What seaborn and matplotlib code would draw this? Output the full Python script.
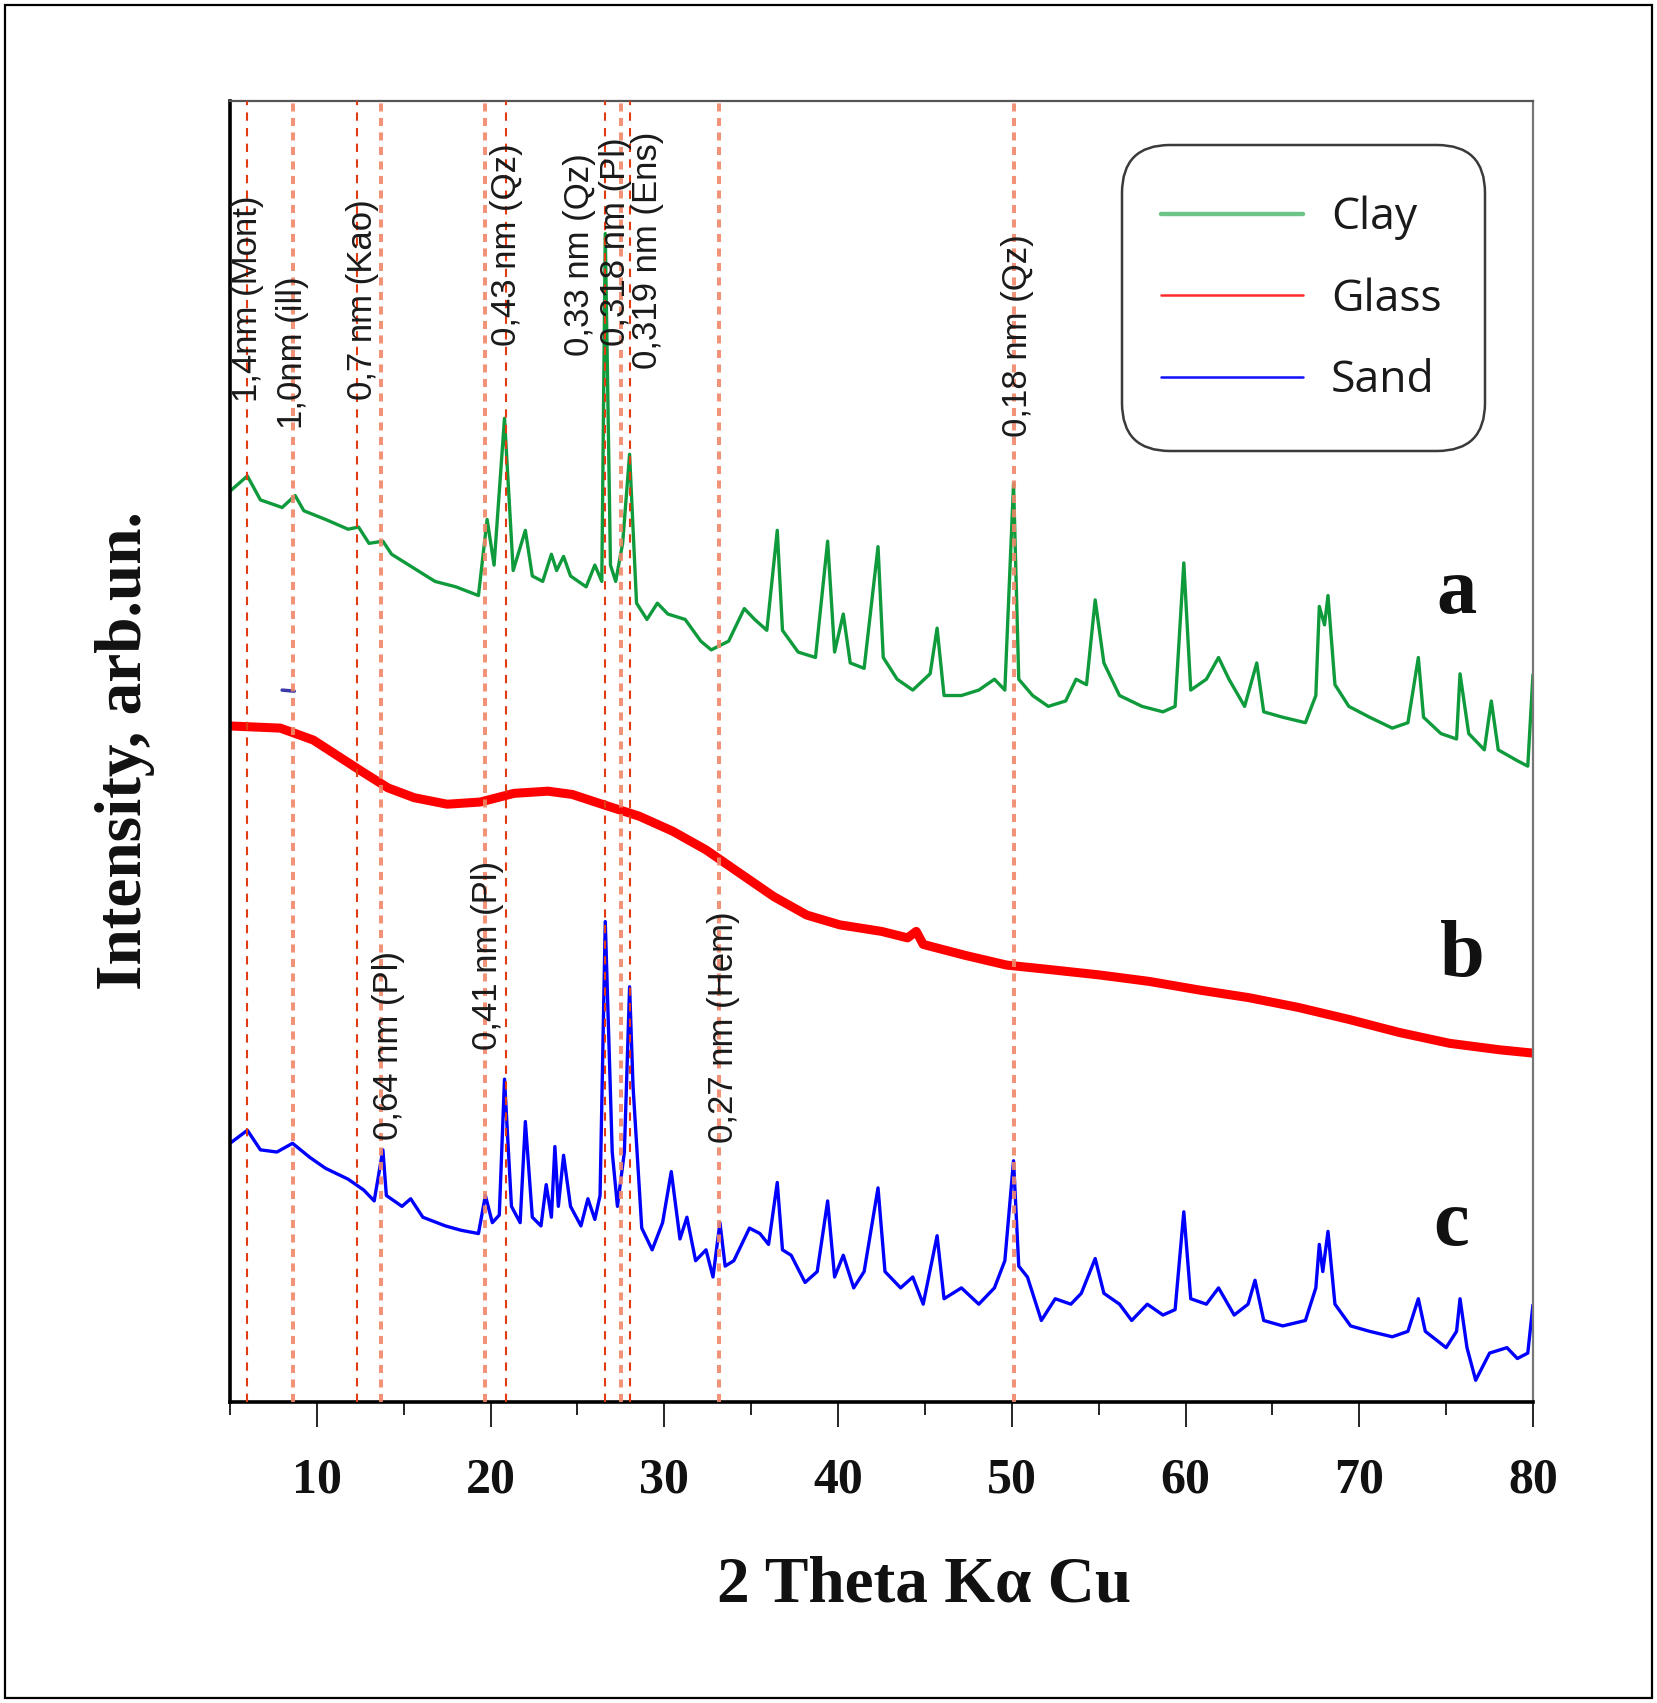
import numpy as np
import pandas as pd
import matplotlib
matplotlib.use("Agg")
import matplotlib.pyplot as plt
import seaborn as sns
from matplotlib.lines import Line2D
from matplotlib.patches import Rectangle, FancyBboxPatch
from matplotlib.transforms import IdentityTransform

# ---------------- data ----------------
clay_theta = [5.0, 6.0, 6.75, 8.0, 8.75, 9.25, 10.5, 11.8, 12.4, 13.0,
              13.8, 14.3, 15.5, 16.8, 18.0, 19.3, 19.8, 20.2, 20.8, 21.3,
              22.0, 22.4, 23.0, 23.5, 23.8, 24.2, 24.6, 25.5, 26.0, 26.4,
              26.6, 26.9, 27.2, 27.6, 28.0, 28.4, 29.0, 29.6, 30.2, 31.2,
              32.1, 32.7, 33.7, 34.6, 35.2, 35.9, 36.5, 36.8, 37.7, 38.7,
              39.4, 39.8, 40.3, 40.7, 41.5, 42.3, 42.6, 43.4, 44.3, 45.3,
              45.7, 46.1, 47.1, 48.1, 49.0, 49.6, 50.1, 50.4, 51.2, 52.1,
              53.1, 53.7, 54.3, 54.8, 55.3, 56.2, 57.5, 58.7, 59.4, 59.9,
              60.3, 61.2, 61.9, 62.5, 63.4, 64.1, 64.5, 65.6, 66.9, 67.5,
              67.7, 68.0, 68.2, 68.6, 69.4, 70.6, 71.9, 72.8, 73.4, 73.7,
              74.7, 75.6, 75.8, 76.3, 77.2, 77.6, 78.0, 79.1, 79.7, 80.0]
clay_int = [83.8, 85.2, 83.0, 82.3, 83.4, 82.0, 81.2, 80.3, 80.5, 79.0,
            79.2, 78.0, 76.8, 75.5, 75.0, 74.2, 81.2, 77.0, 90.5, 76.5,
            80.2, 76.0, 75.5, 78.0, 76.5, 77.8, 76.0, 75.0, 77.0, 75.5,
            107.5, 77.0, 75.5, 79.0, 87.2, 73.5, 72.0, 73.5, 72.5, 72.0,
            70.0, 69.2, 70.0, 73.0, 72.0, 71.0, 80.2, 71.0, 69.0, 68.5,
            79.2, 69.0, 72.5, 68.0, 67.5, 78.7, 68.5, 66.5, 65.5, 67.0,
            71.2, 65.0, 65.0, 65.5, 66.5, 65.5, 84.5, 66.5, 65.0, 64.0,
            64.5, 66.5, 66.0, 73.8, 68.0, 65.0, 64.0, 63.5, 64.0, 77.2,
            65.5, 66.5, 68.5, 66.5, 64.0, 68.0, 63.5, 63.0, 62.5, 65.0,
            73.2, 71.5, 74.2, 66.0, 64.0, 63.0, 62.0, 62.5, 68.5, 63.0,
            61.5, 61.0, 67.0, 61.5, 60.0, 64.5, 60.0, 59.0, 58.5, 67.0]

glass_theta = [5.0, 7.9, 9.8, 11.25, 12.7, 14.1, 15.6, 17.5, 19.4, 21.35,
               23.3, 24.7, 26.6, 28.55, 30.5, 32.4, 34.3, 36.3, 38.2, 40.1,
               42.5, 44.0, 44.5, 44.9, 47.3, 49.7, 52.1, 55.0, 57.9, 60.8,
               63.65, 66.5, 69.4, 72.3, 75.2, 78.1, 80.0]
glass_int = [62.2, 62.0, 60.9, 59.4, 57.9, 56.5, 55.6, 55.0, 55.2, 56.0,
             56.2, 55.9, 54.9, 53.9, 52.5, 50.8, 48.7, 46.5, 44.8, 43.9,
             43.3, 42.7, 43.3, 42.1, 41.1, 40.2, 39.8, 39.3, 38.7, 37.9,
             37.2, 36.3, 35.2, 34.0, 33.0, 32.4, 32.1]

sand_theta = [5.0, 6.0, 6.75, 7.7, 8.6, 9.6, 10.5, 11.8, 12.7, 13.3,
              13.8, 14.0, 14.9, 15.4, 16.1, 17.4, 18.3, 19.3, 19.7, 20.1,
              20.5, 20.8, 21.2, 21.7, 22.0, 22.4, 22.9, 23.2, 23.5, 23.7,
              23.9, 24.2, 24.6, 25.2, 25.6, 26.0, 26.3, 26.6, 27.0, 27.3,
              27.7, 28.0, 28.2, 28.7, 29.3, 29.9, 30.4, 30.9, 31.3, 31.8,
              32.4, 32.8, 33.2, 33.5, 34.0, 34.9, 35.5, 36.0, 36.5, 36.8,
              37.3, 38.1, 38.8, 39.4, 39.8, 40.3, 40.9, 41.5, 42.3, 42.7,
              43.6, 44.3, 44.9, 45.7, 46.1, 47.1, 48.1, 49.0, 49.6, 50.1,
              50.4, 50.9, 51.7, 52.5, 53.4, 54.0, 54.8, 55.3, 56.2, 56.9,
              57.8, 58.7, 59.4, 59.9, 60.3, 61.2, 61.9, 62.8, 63.6, 64.0,
              64.5, 65.6, 66.9, 67.5, 67.7, 67.9, 68.2, 68.6, 69.5, 70.6,
              71.9, 72.8, 73.4, 73.8, 75.0, 75.6, 75.8, 76.2, 76.7, 77.5,
              78.5, 79.1, 79.7, 80.0]
sand_int = [23.8, 25.0, 23.2, 23.0, 23.8, 22.5, 21.5, 20.5, 19.5, 18.5,
            23.2, 19.0, 18.0, 18.7, 17.0, 16.2, 15.8, 15.5, 19.0, 16.5,
            17.2, 29.7, 18.0, 16.5, 25.8, 17.0, 16.2, 20.0, 17.0, 23.5,
            18.0, 22.7, 18.0, 16.2, 18.7, 16.8, 19.0, 44.2, 23.0, 18.0,
            23.0, 38.2, 29.0, 16.0, 14.0, 16.5, 21.2, 15.0, 17.0, 13.0,
            14.0, 11.5, 16.5, 12.5, 13.0, 16.0, 15.5, 14.5, 20.2, 14.0,
            13.5, 11.0, 12.0, 18.5, 11.5, 13.5, 10.5, 12.0, 19.7, 12.0,
            10.5, 11.5, 9.0, 15.3, 9.5, 10.5, 9.0, 10.5, 13.0, 22.2,
            12.5, 11.5, 7.5, 9.5, 9.0, 10.0, 13.2, 10.0, 9.0, 7.5,
            9.0, 8.0, 8.5, 17.5, 9.5, 9.0, 10.5, 8.0, 9.0, 11.2,
            7.5, 7.0, 7.5, 10.5, 14.5, 12.0, 15.7, 9.0, 7.0, 6.5,
            6.0, 6.5, 9.5, 6.5, 5.0, 6.5, 9.5, 5.0, 2.0, 4.5,
            5.0, 4.0, 4.5, 9.0]

stray_theta = [8.0, 8.7]
stray_int = [65.5, 65.4]

series_names = ["Clay", "Glass", "Sand"]
series_colors = ["#0f9a3c", "#ff0000", "#0000ff"]
legend_colors = ["#6cc487", "#ff2a2a", "#1010ff"]

thin_lines_x = [5.95, 12.3, 20.9, 26.6, 28.05]
thick_lines_x = [8.6, 13.7, 19.7, 27.5, 33.15, 50.1]

peak_labels = ["1,4nm (Mont)", "1,0nm (ill)", "0,7 nm (Kao)", "0,43 nm (Qz)",
               "0,33 nm (Qz)", "0,318 nm (Pl)", "0,319 nm (Ens)", "0,18 nm (Qz)",
               "0,64 nm (Pl)", "0,41 nm (Pl)", "0,27 nm (Hem)"]
peak_label_x = [6.0, 8.6, 12.6, 20.9, 25.1, 27.2, 29.05, 50.3, 14.1, 19.8, 33.4]
peak_label_y = [92.0, 89.5, 92.2, 97.2, 96.2, 97.2, 95.0, 88.8, 24.1, 32.4, 23.8]

curve_letters = ["a", "b", "c"]
letter_x = [75.6, 75.95, 75.3]
letter_y = [72.6, 39.2, 14.4]

x_major = [10, 20, 30, 40, 50, 60, 70, 80]
x_minor = [5, 15, 25, 35, 45, 55, 65, 75]

# ---------------- build table ----------------
frames = []
for name, th, iv in zip(series_names, [clay_theta, glass_theta, sand_theta],
                        [clay_int, glass_int, sand_int]):
    frames.append(pd.DataFrame({"theta": th, "intensity": iv, "sample": name}))
df = pd.concat(frames, ignore_index=True)
stray_df = pd.DataFrame({"theta": stray_theta, "intensity": stray_int})

# ---------------- figure ----------------
sns.set_theme(style="white")
plt.rcParams["font.family"] = ["Liberation Serif", "DejaVu Serif"]

W, H = 1658, 1703
fig = plt.figure(figsize=(W / 100, H / 100), dpi=100)
ax = fig.add_axes([230 / W, 1 - 1402 / H, 1303 / W, 1301 / H])

widths = {"Clay": 2.4, "Glass": 6.5, "Sand": 2.4}
for name, col in zip(series_names, series_colors):
    sns.lineplot(data=df[df["sample"] == name], x="theta", y="intensity",
                 color=col, lw=widths[name], ax=ax, legend=False,
                 estimator=None, sort=False, zorder=2,
                 solid_joinstyle="round", solid_capstyle="butt")
sns.lineplot(data=stray_df, x="theta", y="intensity", color="#3a3aa8", lw=2.5,
             ax=ax, legend=False, estimator=None, sort=False, zorder=2)

for xv in thin_lines_x:
    ax.axvline(xv, color="#e23b12", lw=1.5, linestyle=(0, (4, 3.5)), zorder=3)
for xv in thick_lines_x:
    ax.axvline(xv, color="#f0876a", lw=2.9, linestyle=(0, (2, 1.6)), zorder=3,
               alpha=0.9)

for lab, xv, yv in zip(peak_labels, peak_label_x, peak_label_y):
    ax.text(xv, yv, lab, rotation=90, ha="center", va="bottom", fontsize=25,
            color="#1a1a1a", family=["Liberation Sans", "DejaVu Sans"], zorder=5)

for lab, xv, yv in zip(curve_letters, letter_x, letter_y):
    ax.text(xv, yv, lab, ha="center", va="baseline", fontsize=58,
            fontweight="bold", color="#111111", zorder=5)

ax.set_xlim(5, 80)
ax.set_ylim(0, 119.7)
ax.set_xticks(x_major)
ax.set_xticks(x_minor, minor=True)
ax.set_xticklabels([str(v) for v in x_major])
ax.set_yticks([])

ax.tick_params(axis="x", which="major", direction="out", length=18, width=1.2,
               color="black", pad=22, labelsize=36, bottom=True)
ax.tick_params(axis="x", which="minor", direction="out", length=9, width=1.2,
               color="black", bottom=True)
for t in ax.get_xticklabels():
    t.set_fontweight("bold")
    t.set_color("#111111")

ax.set_xlabel("2 Theta Kα Cu", fontsize=47, fontweight="bold", color="#111111")
ax.xaxis.label.set_va("center")
ax.xaxis.set_label_coords(0.533, -0.1407)
ax.set_ylabel("Intensity, arb.un.", fontsize=47, fontweight="bold", color="#111111")
ax.yaxis.label.set_va("center")
ax.yaxis.set_label_coords(-0.0806, 0.501)

ax.spines["left"].set_color("black")
ax.spines["left"].set_linewidth(2.6)
ax.spines["bottom"].set_color("black")
ax.spines["bottom"].set_linewidth(2.6)
ax.spines["top"].set_color("#555555")
ax.spines["top"].set_linewidth(1.6)
ax.spines["right"].set_color("#777777")
ax.spines["right"].set_linewidth(1.6)
for s in ax.spines.values():
    s.set_visible(True)

# legend box (rounded) drawn in pixel coordinates
box = FancyBboxPatch((1122, H - 451), 1485 - 1122, 451 - 145,
                     boxstyle="round,pad=0,rounding_size=48",
                     transform=IdentityTransform(), facecolor="white",
                     edgecolor="#3a3a3a", lw=1.8, zorder=8)
fig.patches.append(box)

handles = [Line2D([0], [0], color=legend_colors[0], lw=3.2),
           Line2D([0], [0], color=legend_colors[1], lw=1.8),
           Line2D([0], [0], color=legend_colors[2], lw=1.8)]
leg = fig.legend(handles, series_names, loc="upper left",
                 bbox_to_anchor=(1161 / W, 1 - 196 / H),
                 bbox_transform=fig.transFigure,
                 borderaxespad=0, frameon=False,
                 handlelength=3.2, handletextpad=0.62, borderpad=0,
                 labelspacing=0.83,
                 prop={"family": ["Open Sans", "DejaVu Sans"], "size": 32})
for t in leg.get_texts():
    t.set_color("#1a1a1a")
leg.set_zorder(10)

fig.patches.append(Rectangle((5 / W, 5 / H), 1 - 11 / W, 1 - 10 / H,
                             transform=fig.transFigure, fill=False,
                             edgecolor="black", lw=1.6, zorder=0))

fig.savefig("out.png", dpi=100, facecolor="white")
